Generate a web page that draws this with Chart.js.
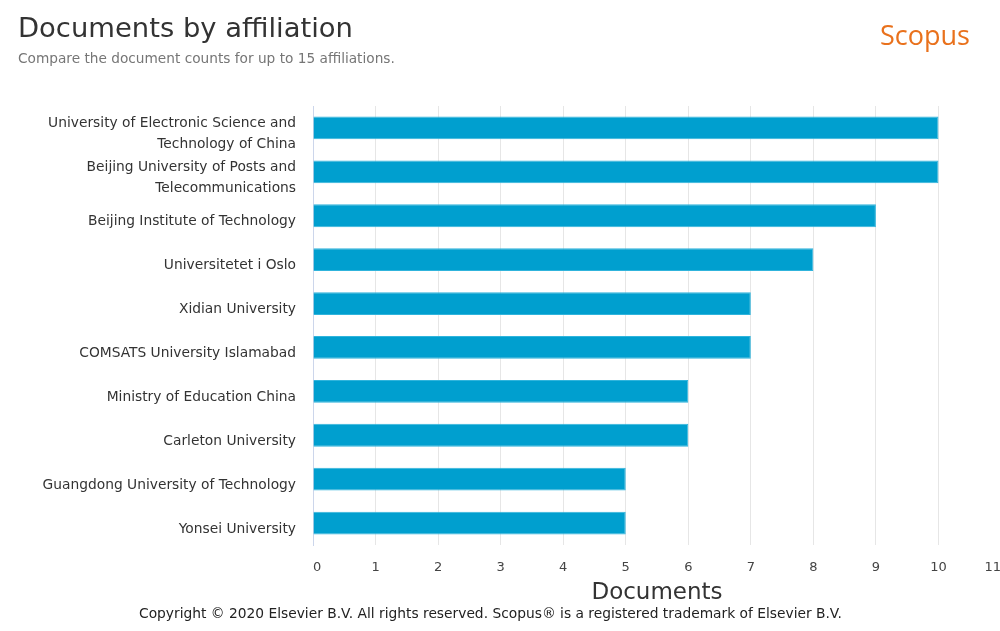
<!DOCTYPE html>
<html>
<head>
<meta charset="utf-8">
<script src="https://cdn.jsdelivr.net/npm/chart.js@4"></script>
<style>
  html, body { margin:0; padding:0; background:#fff; width:1000px; height:631px; overflow:hidden; font-family:"DejaVu Sans", sans-serif; }
  #wrap { position:absolute; left:0; top:0; width:1016px; height:631px; }
  #title { position:absolute; left:18px; top:12px; font-size:27.4px; color:#333; white-space:nowrap; }
  #subtitle { position:absolute; left:18px; top:50px; font-size:13.7px; color:#767676; white-space:nowrap; }
  #logo { position:absolute; left:880px; top:16px; font-family:"Open Sans", sans-serif; font-size:27px; color:#e9711c; white-space:nowrap; }
  #footer { position:absolute; left:139px; top:605px; font-size:13.8px; color:#222; white-space:nowrap; font-family:"DejaVu Sans",sans-serif; }
</style>
</head>
<body>
<div id="wrap"><canvas id="c" width="1016" height="631"></canvas></div>
<div id="title">Documents by affiliation</div>
<div id="subtitle">Compare the document counts for up to 15 affiliations.</div>
<div id="logo">Scopus</div>
<div id="footer">Copyright © 2020 Elsevier B.V. All rights reserved. Scopus® is a registered trademark of Elsevier B.V.</div>
<script>
const affiliations = [
  ["University of Electronic Science and", "Technology of China"],
  ["Beijing University of Posts and", "Telecommunications"],
  "Beijing Institute of Technology",
  "Universitetet i Oslo",
  "Xidian University",
  "COMSATS University Islamabad",
  "Ministry of Education China",
  "Carleton University",
  "Guangdong University of Technology",
  "Yonsei University"
];
const documentCounts = [10, 10, 9, 8, 7, 7, 6, 6, 5, 5];
const xAxisTitle = "Documents";

new Chart(document.getElementById('c'), {
  type: 'bar',
  data: {
    labels: affiliations,
    datasets: [{
      data: documentCounts,
      backgroundColor: '#009fcf',
      borderColor: '#30b4dc',
      borderWidth: 1,
      barPercentage: 0.52,
      categoryPercentage: 1.0
    }]
  },
  options: {
    indexAxis: 'y',
    responsive: false,
    animation: false,
    devicePixelRatio: 1,
    layout: { padding: { top: 106, right: 0, bottom: 24, left: 0 } },
    plugins: { legend: { display: false }, tooltip: { enabled: false } },
    scales: {
      x: {
        min: 0, max: 11,
        ticks: { stepSize: 1, padding: 15, color: '#444', font: { family: 'DejaVu Sans', size: 13 }, align: 'inner' },
        grid: { color: '#e6e6e6', drawTicks: false },
        border: { display: false },
        title: { display: true, text: xAxisTitle, color: '#333', font: { family: 'DejaVu Sans', size: 23 }, padding: { top: 0, bottom: 0 } },
        afterFit: (s) => { s.height = 62; }
      },
      y: {
        ticks: { autoSkip: false, padding: 17, labelOffset: 6, color: '#333', font: { family: 'DejaVu Sans', size: 13.8, lineHeight: 1.55 } },
        grid: { display: false, drawTicks: false },
        border: { display: true, color: '#ccd6eb', width: 1 },
        afterFit: (s) => { s.width = 313; }
      }
    }
  }
});
</script>
</body>
</html>
